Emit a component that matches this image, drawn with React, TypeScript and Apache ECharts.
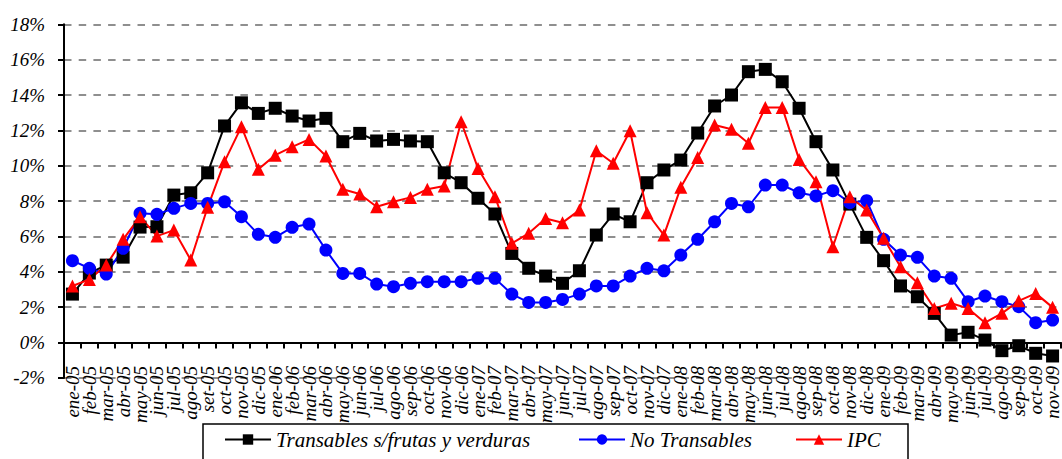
import React, { useEffect, useRef } from "react";
import * as echarts from "echarts";

const categories = [
  "ene-05","feb-05","mar-05","abr-05","may-05","jun-05","jul-05","ago-05","set-05","oct-05","nov-05","dic-05",
  "ene-06","feb-06","mar-06","abr-06","may-06","jun-06","jul-06","ago-06","sep-06","oct-06","nov-06","dic-06",
  "ene-07","feb-07","mar-07","abr-07","may-07","jun-07","jul-07","ago-07","sep-07","oct-07","nov-07","dic-07",
  "ene-08","feb-08","mar-08","abr-08","may-08","jun-08","jul-08","ago-08","sep-08","oct-08","nov-08","dic-08",
  "ene-09","feb-09","mar-09","abr-09","may-09","jun-09","jul-09","ago-09","sep-09","oct-09","nov-09",
];

const transables = [
  2.74, 3.93, 4.38, 4.83, 6.53, 6.55, 8.34, 8.47, 9.6, 12.25, 13.56, 12.96,
  13.25, 12.81, 12.53, 12.68, 11.36, 11.83, 11.4, 11.49, 11.4, 11.36, 9.6, 9.04,
  8.16, 7.27, 5.04, 4.2, 3.76, 3.35, 4.06, 6.08, 7.27, 6.83, 9.04, 9.76,
  10.32, 11.85, 13.38, 14.0, 15.32, 15.45, 14.75, 13.25, 11.36, 9.76, 7.83, 5.95,
  4.63, 3.2, 2.59, 1.65, 0.42, 0.58, 0.14, -0.46, -0.18, -0.61, -0.76,
];

const noTransables = [
  4.63, 4.2, 3.87, 5.33, 7.31, 7.25, 7.59, 7.87, 7.87, 7.96, 7.12, 6.12,
  5.95, 6.52, 6.7, 5.23, 3.91, 3.91, 3.31, 3.16, 3.35, 3.44, 3.44, 3.44,
  3.63, 3.63, 2.74, 2.27, 2.27, 2.44, 2.74, 3.2, 3.2, 3.76, 4.2, 4.06,
  4.95, 5.84, 6.83, 7.87, 7.68, 8.91, 8.91, 8.47, 8.29, 8.59, 7.91, 8.02,
  5.84, 4.95, 4.82, 3.76, 3.63, 2.31, 2.63, 2.31, 2.03, 1.12, 1.27,
];

const ipc = [
  3.2, 3.57, 4.38, 5.84, 7.12, 6.02, 6.36, 4.67, 7.65, 10.23, 12.21, 9.8,
  10.6, 11.07, 11.49, 10.55, 8.67, 8.4, 7.68, 7.96, 8.21, 8.67, 8.85, 12.49,
  9.85, 8.25, 5.61, 6.18, 7.02, 6.78, 7.49, 10.85, 10.14, 11.98, 7.34, 6.08,
  8.78, 10.47, 12.3, 12.06, 11.27, 13.3, 13.3, 10.36, 9.1, 5.42, 8.25, 7.49,
  5.9, 4.29, 3.38, 1.93, 2.22, 1.93, 1.12, 1.65, 2.36, 2.78, 1.99,
];

const seriesNames = ["Transables s/frutas y verduras", "No Transables", "IPC"];

const FONT = "Liberation Serif";

export default function App() {
  const ref = useRef<HTMLDivElement>(null);
  useEffect(() => {
    if (!ref.current) return;
    const chart = echarts.init(ref.current, null, { renderer: "svg" });
    const legendText = { fontFamily: FONT, fontStyle: "italic", fontSize: 21, color: "#000" };
    const mkLegend = (name: string, left: number) => ({
      data: [name],
      left,
      top: 429,
      padding: 0,
      itemWidth: 46,
      itemHeight: 13,
      itemGap: 0,
      textStyle: legendText,
      selectedMode: false,
    });
    chart.setOption({
      animation: false,
      backgroundColor: "#fff",
      grid: { left: 64, top: 24.3, width: 1006, height: 353.6 },
      legend: [
        mkLegend(seriesNames[0], 224),
        mkLegend(seriesNames[1], 578),
        mkLegend(seriesNames[2], 795),
      ],
      graphic: [
        {
          type: "rect",
          shape: { x: 203, y: 424, width: 705, height: 50 },
          style: { fill: "#fff", stroke: "#000", lineWidth: 1.5 },
          z: 0,
        },
      ],
      xAxis: {
        type: "category",
        data: categories,
        boundaryGap: true,
        axisLine: { onZero: true, lineStyle: { color: "#000", width: 2 } },
        axisTick: { show: true, length: 6, lineStyle: { color: "#000", width: 2 } },
        axisLabel: {
          interval: 0,
          rotate: 90,
          margin: -12,
          fontFamily: FONT,
          fontStyle: "italic",
          fontSize: 19,
          color: "#000",
        },
        splitLine: { show: false },
      },
      yAxis: {
        type: "value",
        min: -2,
        max: 18,
        interval: 2,
        axisLine: { show: true, lineStyle: { color: "#000", width: 2 } },
        axisTick: { show: true, length: 6, lineStyle: { color: "#000", width: 2 } },
        axisLabel: {
          formatter: "{value}%",
          margin: 19,
          fontFamily: FONT,
          fontStyle: "italic",
          fontSize: 19,
          color: "#000",
        },
        splitLine: {
          show: true,
          lineStyle: { color: "#8f8f8f", width: 2, type: [7.5, 7.2] },
        },
      },
      series: [
        {
          name: seriesNames[0],
          type: "line",
          data: transables,
          color: "#000",
          lineStyle: { color: "#000", width: 2 },
          itemStyle: { color: "#000" },
          symbol: "rect",
          symbolSize: 13,
        },
        {
          name: seriesNames[1],
          type: "line",
          data: noTransables,
          color: "#0000ff",
          lineStyle: { color: "#0000ff", width: 2 },
          itemStyle: { color: "#0000ff" },
          symbol: "circle",
          symbolSize: 13,
        },
        {
          name: seriesNames[2],
          type: "line",
          data: ipc,
          color: "#ff0000",
          lineStyle: { color: "#ff0000", width: 2 },
          itemStyle: { color: "#ff0000" },
          symbol: "triangle",
          symbolSize: 13,
        },
      ],
    });
    return () => chart.dispose();
  }, []);
  return (
    <div
      ref={ref}
      style={{ position: "fixed", left: 0, top: 0, width: 1062, height: 459 }}
    />
  );
}
